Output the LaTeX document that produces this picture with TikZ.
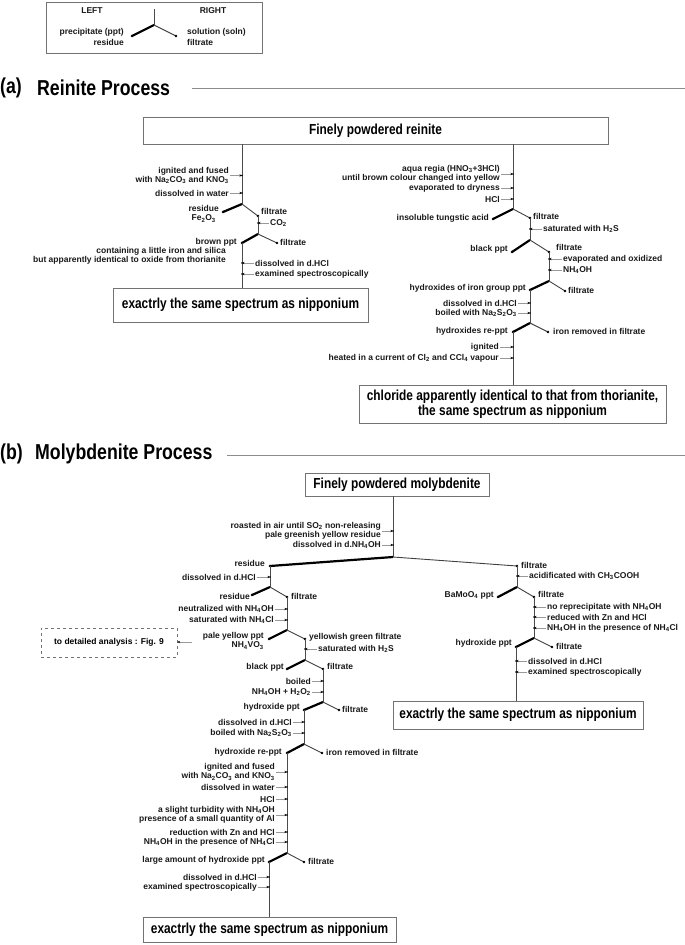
\documentclass[tikz,border=0pt]{standalone}
\usepackage{fontspec}
\setmainfont{Liberation Sans}
\newfontfamily\narrowfont[FakeStretch=0.82]{Liberation Sans}
\usetikzlibrary{arrows.meta}
\newcommand\labfont{\fontsize{8.5}{9.2}\selectfont\bfseries}
\newcommand\boxfont{\narrowfont\fontsize{14.5}{15.5}\selectfont\bfseries}
\newcommand\ttlfont{\narrowfont\fontsize{21.6}{24}\selectfont\bfseries}
\newcommand\sbs[1]{\textsubscript{#1}}
\tikzset{
 lab/.style={font=\labfont, inner sep=0pt, text=black!90},
 labl/.style={lab, anchor=east, align=right},
 labr/.style={lab, anchor=west, align=left},
 vl/.style={draw=black!70, line width=0.9pt},
 pptl/.style={draw=black, line width=2.2pt},
 solnl/.style={draw=black!75, line width=0.9pt},
 mk/.style={draw=black!40, line width=0.5pt, -{Stealth[length=2.6pt,width=2.4pt,black]}},
 resbox/.style={draw=black!55, line width=0.9pt, inner sep=0pt, font=\boxfont, align=center, fill=white},
 ttl/.style={font=\ttlfont, inner sep=0pt, anchor=west},
 sep/.style={draw=black!45, line width=1pt},
}
\newcommand\mkL[5]{\node[labl] (#1) at (#3,#4) {#5};
  \draw[mk] ([xshift=0.8pt]#1.east) -- (#1.east -| #2);
  \fill (#1.east -| #2) circle[radius=0.9pt];}
\newcommand\mkR[5]{\node[labr] (#1) at (#3,#4) {#5};
  \draw[mk] ([xshift=-0.8pt]#1.west) -- (#1.west -| #2);
  \fill (#1.west -| #2) circle[radius=0.9pt];}
\newcommand\branch[3]{% junction, ppt end, filtrate end
  \draw[pptl] (#1) -- (#2); \draw[solnl] (#1) -- (#3);
  \fill (#2) circle[radius=1.3pt]; \fill (#3) circle[radius=1.3pt];}
\begin{document}
\begin{tikzpicture}[x=1pt,y=-1pt]
\useasboundingbox (0,0) rectangle (685,945);
% ---------------- legend
\node[draw=black!55, line width=0.9pt, minimum width=216pt, minimum height=51pt, inner sep=0pt, anchor=north west] (legend) at (46,2) {};
\coordinate (lgj) at (154,25); \coordinate (lgt) at (154,9);
\coordinate (lgl) at (132,36); \coordinate (lgr) at (176,36);
\draw[vl] (lgt) -- (lgj);
\branch{lgj}{lgl}{lgr}
\node[lab] (lgleft) at (92,11) {LEFT};
\node[lab] (lgright) at (213,11) {RIGHT};
\node[labl] (lgppt) at (124,37) {precipitate (ppt)\\[1pt]residue};
\node[labr] (lgsoln) at (187,37) {solution (soln)\\[1pt]filtrate};
% ---------------- titles
\node[ttl] (ta) at (0,88) {(a)};
\node[ttl] (tat) at (37,88) {Reinite Process};
\coordinate (tal) at (192,88); \coordinate (tae) at (685,88);
\draw[sep] (tal) -- (tae);
\node[ttl] (tb) at (0,454) {(b)};
\node[ttl] (tbt) at (35,454) {Molybdenite Process};
\coordinate (tbl) at (227,455); \coordinate (tbe) at (685,455);
\draw[sep] (tbl) -- (tbe);
% ================= (a)
\node[resbox, minimum width=465pt, minimum height=27pt] (boxa) at (375.5,130.5) {Finely powdered reinite};
% left chain
\coordinate (aj1) at (242,204); \coordinate (ar1) at (223,212); \coordinate (af1) at (258,216);
\coordinate (aj2) at (258,234); \coordinate (ar2) at (242,243); \coordinate (af2) at (277,243);
\node[resbox, minimum width=255pt, minimum height=34pt] (boxa1) at (240.5,305) {exactrly the same spectrum as nipponium};
\draw[vl] (boxa.south -| aj1) -- (aj1);
\branch{aj1}{ar1}{af1}
\draw[vl] (af1) -- (aj2);
\branch{aj2}{ar2}{af2}
\draw[vl] (ar2) -- (ar2 |- boxa1.north);
\mkL{la1}{aj1}{229}{175.5}{ignited and fused\\with Na\sbs{2}CO\sbs{3} and KNO\sbs{3}}
\mkL{la2}{aj1}{229}{193}{dissolved in water}
\node[lab, align=center, anchor=east] (la3) at (219,214) {residue\\Fe\sbs{2}O\sbs{3}};
\node[labr] (la4) at (261,211) {filtrate};
\mkR{la5}{af1}{270}{223}{CO\sbs{2}}
\node[labl] (la6) at (237,242) {brown ppt};
\node[labl] (la7) at (226,255.5) {containing a little iron and silica\\but apparently identical to oxide from thorianite};
\node[labr] (la8) at (280,242) {filtrate};
\mkR{la9}{ar2}{255}{263}{dissolved in d.HCl}
\mkR{la10}{ar2}{255}{274}{examined spectroscopically}
% right chain
\coordinate (bj1) at (513,209); \coordinate (br1) at (493,219); \coordinate (bf1) at (530,218);
\coordinate (bj2) at (530,240); \coordinate (br2) at (512,252); \coordinate (bf2) at (549,252);
\coordinate (bj3) at (549,281); \coordinate (br3) at (530,290); \coordinate (bf3) at (565,291);
\coordinate (bj4) at (530,323); \coordinate (br4) at (513,332); \coordinate (bf4) at (548,332);
\node[resbox, minimum width=307pt, minimum height=38pt] (boxa2) at (512.5,404) {chloride apparently identical to that from thorianite,\\the same spectrum as nipponium};
\draw[vl] (boxa.south -| bj1) -- (bj1);
\branch{bj1}{br1}{bf1}
\draw[vl] (bf1) -- (bj2);
\branch{bj2}{br2}{bf2}
\draw[vl] (bf2) -- (bj3);
\branch{bj3}{br3}{bf3}
\draw[vl] (br3) -- (bj4);
\branch{bj4}{br4}{bf4}
\draw[vl] (br4) -- (br4 |- boxa2.north);
\mkL{lb1}{bj1}{500}{174}{aqua regia (HNO\sbs{3}+3HCl)\\until brown colour changed into yellow}
\mkL{lb2}{bj1}{500}{188}{evaporated to dryness}
\mkL{lb3}{bj1}{500}{199}{HCl}
\node[labl] (lb4) at (489,218) {insoluble tungstic acid};
\node[labr] (lb5) at (533,216) {filtrate};
\mkR{lb6}{bf1}{543}{229}{saturated with H\sbs{2}S}
\node[labl] (lb7) at (508,249) {black ppt};
\node[labr] (lb8) at (556,247) {filtrate};
\mkR{lb9}{bf2}{563}{259}{evaporated and oxidized}
\mkR{lb10}{bf2}{563}{270}{NH\sbs{4}OH}
\node[labl] (lb11) at (526,288) {hydroxides of iron group ppt};
\node[labr] (lb12) at (568,290) {filtrate};
\mkL{lb13}{br3}{517}{303}{dissolved in d.HCl}
\mkL{lb14}{br3}{517}{313}{boiled with Na\sbs{2}S\sbs{2}O\sbs{3}}
\node[labl] (lb15) at (508,331) {hydroxides re-ppt};
\node[labr] (lb16) at (553,331) {iron removed in filtrate};
\mkL{lb17}{br4}{499}{347}{ignited}
\mkL{lb18}{br4}{499}{358}{heated in a current of Cl\sbs{2} and CCl\sbs{4} vapour}
% ================= (b)
\node[resbox, minimum width=184pt, minimum height=23pt] (boxb) at (397,484.5) {Finely powdered molybdenite};
\coordinate (cj0) at (393,557); \coordinate (cres) at (270,566); \coordinate (cfil) at (517,566);
\draw[vl] (boxb.south -| cj0) -- (cj0);
\branch{cj0}{cres}{cfil}
\mkL{lc1}{cj0}{381}{531}{roasted in air until SO\sbs{2} non-releasing\\pale greenish yellow residue}
\mkL{lc2}{cj0}{381}{545}{dissolved in d.NH\sbs{4}OH}
\node[labl] (lc3) at (265,563) {residue};
\node[labr] (lc4) at (521,565) {filtrate};
% left sub-chain
\coordinate (cj1) at (270,587); \coordinate (cr1) at (252,595); \coordinate (cf1) at (287,597);
\coordinate (cj2) at (287,630); \coordinate (cr2) at (269,639); \coordinate (cf2) at (305,639);
\coordinate (cj3) at (305,660); \coordinate (cr3) at (287,669); \coordinate (cf3) at (323,669);
\coordinate (cj4) at (323,702); \coordinate (cr4) at (304,710); \coordinate (cf4) at (339,710);
\coordinate (cj5) at (304,744); \coordinate (cr5) at (287,753); \coordinate (cf5) at (322,753);
\coordinate (cj6) at (287,853); \coordinate (cr6) at (269,862); \coordinate (cf6) at (304,862);
\node[resbox, minimum width=253pt, minimum height=25pt] (boxb1) at (269.5,929.5) {exactrly the same spectrum as nipponium};
\draw[vl] (cres) -- (cj1);
\branch{cj1}{cr1}{cf1}
\draw[vl] (cf1) -- (cj2);
\branch{cj2}{cr2}{cf2}
\draw[vl] (cf2) -- (cj3);
\branch{cj3}{cr3}{cf3}
\draw[vl] (cf3) -- (cj4);
\branch{cj4}{cr4}{cf4}
\draw[vl] (cr4) -- (cj5);
\branch{cj5}{cr5}{cf5}
\draw[vl] (cr5) -- (cj6);
\branch{cj6}{cr6}{cf6}
\draw[vl] (cr6) -- (cr6 |- boxb1.north);
\mkL{lc5}{cres}{256}{577}{dissolved in d.HCl}
\node[labl] (lc6) at (250,596) {residue};
\node[labr] (lc7) at (291,596) {filtrate};
\mkL{lc8}{cf1}{274}{609}{neutralized with NH\sbs{4}OH}
\mkL{lc9}{cf1}{274}{620}{saturated with NH\sbs{4}Cl}
\node[labl] (lc10) at (264,641) {pale yellow ppt\\NH\sbs{4}VO\sbs{3}};
\node[labr] (lc11) at (309,637) {yellowish green filtrate};
\mkR{lc12}{cf2}{318}{649}{saturated with H\sbs{2}S}
\node[draw=black!55, dashed, line width=0.8pt, minimum width=136pt, minimum height=29pt, inner sep=0pt, font=\labfont] (detail) at (109,642.5) {to detailed analysis : Fig. 9};
\coordinate (detarr) at (192,642);
\draw[mk] (detarr) -- (detail.east |- detarr);
\node[labl] (lc13) at (284,667) {black ppt};
\node[labr] (lc14) at (327,666) {filtrate};
\mkL{lc15}{cf3}{311}{681}{boiled}
\mkL{lc16}{cf3}{311}{692}{NH\sbs{4}OH + H\sbs{2}O\sbs{2}}
\node[labl] (lc17) at (300,707) {hydroxide ppt};
\node[labr] (lc18) at (342,709) {filtrate};
\mkL{lc19}{cr4}{292}{722}{dissolved in d.HCl}
\mkL{lc20}{cr4}{292}{733}{boiled with Na\sbs{2}S\sbs{2}O\sbs{3}}
\node[labl] (lc21) at (282,752) {hydroxide re-ppt};
\node[labr] (lc22) at (326,752) {iron removed in filtrate};
\mkL{lc23}{cr5}{275}{772}{ignited and fused\\with Na\sbs{2}CO\sbs{3} and KNO\sbs{3}}
\mkL{lc24}{cr5}{275}{787}{dissolved in water}
\mkL{lc25}{cr5}{275}{799}{HCl}
\mkL{lc26}{cr5}{275}{815}{a slight turbidity with NH\sbs{4}OH\\presence of a small quantity of Al}
\mkL{lc27}{cr5}{275}{832}{reduction with Zn and HCl}
\mkL{lc28}{cr5}{275}{842}{NH\sbs{4}OH in the presence of NH\sbs{4}Cl}
\node[labl] (lc29) at (265,860) {large amount of hydroxide ppt};
\node[labr] (lc30) at (308,861) {filtrate};
\mkL{lc31}{cr6}{257}{877}{dissolved in d.HCl}
\mkL{lc32}{cr6}{257}{887}{examined spectroscopically}
% right sub-chain
\coordinate (dj1) at (517,587); \coordinate (dr1) at (498,597); \coordinate (df1) at (534,597);
\coordinate (dj2) at (534,638); \coordinate (dr2) at (516,647); \coordinate (df2) at (552,647);
\node[resbox, minimum width=250pt, minimum height=28pt] (boxb2) at (518,715) {exactrly the same spectrum as nipponium};
\draw[vl] (cfil) -- (dj1);
\branch{dj1}{dr1}{df1}
\draw[vl] (df1) -- (dj2);
\branch{dj2}{dr2}{df2}
\draw[vl] (dr2) -- (dr2 |- boxb2.north);
\mkR{ld1}{cfil}{529}{576}{acidificated with CH\sbs{3}COOH}
\node[labl] (ld2) at (494,595) {BaMoO\sbs{4} ppt};
\node[labr] (ld3) at (538,594) {filtrate};
\mkR{ld4}{df1}{547}{607}{no reprecipitate with NH\sbs{4}OH}
\mkR{ld5}{df1}{547}{617}{reduced with Zn and HCl}
\mkR{ld6}{df1}{547}{628}{NH\sbs{4}OH in the presence of NH\sbs{4}Cl}
\node[labl] (ld7) at (512,643) {hydroxide ppt};
\node[labr] (ld8) at (556,646) {filtrate};
\mkR{ld9}{dr2}{528}{661}{dissolved in d.HCl}
\mkR{ld10}{dr2}{528}{672}{examined spectroscopically}
\end{tikzpicture}
\end{document}
